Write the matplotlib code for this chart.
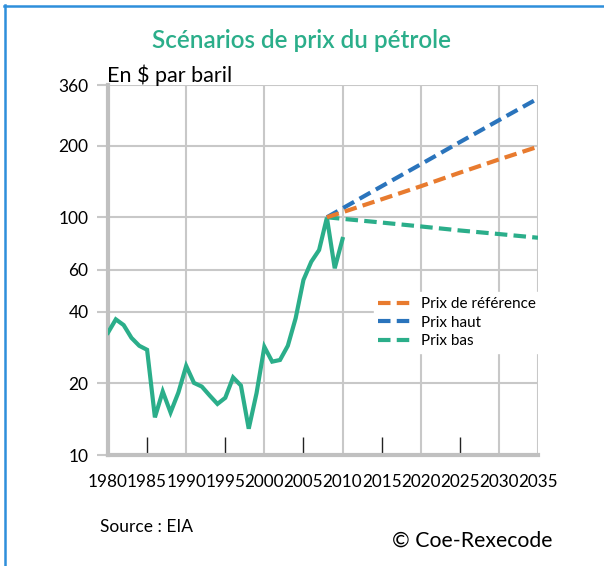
import numpy as np
import matplotlib.pyplot as plt
from matplotlib.lines import Line2D
from matplotlib.ticker import FixedLocator, FixedFormatter, NullFormatter

plt.rcParams['font.family'] = ['Lato', 'DejaVu Sans']

# historical price (green solid)
years_hist = list(range(1980, 2011))
price_hist = [32.7, 37.2, 35.2, 31.1, 28.8, 27.7, 14.4, 18.5, 15.1, 18.3,
              23.7, 20.1, 19.4, 17.8, 16.4, 17.4, 21.2, 19.6, 12.9, 18.2,
              28.5, 24.7, 25.1, 28.8, 37.6, 54.5, 65.0, 72.8, 99.6, 61.0, 81.0]

# scenarios
years_scen = [2008, 2010, 2015, 2020, 2025, 2030, 2035]
prix_ref = [100, 105, 119, 135, 154, 175, 198]
prix_haut = [100, 109, 135, 167, 207, 256, 316]
prix_bas = [100, 98.5, 95, 91.5, 88, 85, 82]

y_ticks = [10, 20, 40, 60, 100, 200, 360]
x_major = [1980, 1990, 2000, 2010, 2020, 2030, 2035]
x_minor = [1985, 1995, 2005, 2015, 2025]

green = '#2BAE8A'
orange = '#E87B2F'
blue = '#2A74BC'
grid_c = '#C8C8C8'
dash = (0, (3, 1.5))

fig = plt.figure(figsize=(6.04, 5.66), dpi=100)
ax = fig.add_axes([108 / 604, 1 - 455 / 566, 430 / 604, 370 / 566])

ax.plot(years_hist, price_hist, color=green, lw=3, solid_joinstyle='miter', zorder=3)
ax.plot(years_scen, prix_bas, color=green, lw=3, ls=dash, zorder=3)
ax.plot(years_scen, prix_haut, color=blue, lw=3, ls=dash, zorder=3)
ax.plot(years_scen, prix_ref, color=orange, lw=3, ls=dash, zorder=3)

ax.set_yscale('log')
ax.set_ylim(10, 360)
ax.set_xlim(1980, 2035)
ax.yaxis.set_major_locator(FixedLocator(y_ticks))
ax.yaxis.set_major_formatter(FixedFormatter([str(v) for v in y_ticks]))
ax.yaxis.set_minor_formatter(NullFormatter())
ax.tick_params(axis='y', which='minor', length=0)
ax.tick_params(axis='y', which='major', length=8, width=1.5, color=grid_c,
               labelsize=12.5, pad=6)

ax.xaxis.set_major_locator(FixedLocator(x_major))
ax.xaxis.set_major_formatter(FixedFormatter([str(v) for v in x_major]))
ax.xaxis.set_minor_locator(FixedLocator(x_minor))
ax.xaxis.set_minor_formatter(FixedFormatter([str(v) for v in x_minor]))
ax.tick_params(axis='x', which='major', length=0, labelsize=12.3, pad=14)
ax.tick_params(axis='x', which='minor', direction='in', length=13, width=1,
               color='#222222', labelsize=12.3, pad=14)

ax.grid(True, which='major', color=grid_c, lw=1.5, zorder=0)
ax.set_axisbelow(True)
for s in ['top', 'right']:
    ax.spines[s].set_visible(False)
for s in ['left', 'bottom']:
    ax.spines[s].set_color('#C0C0C0')
    ax.spines[s].set_linewidth(3)

handles = [Line2D([], [], color=orange, lw=3, ls=dash),
           Line2D([], [], color=blue, lw=3, ls=dash),
           Line2D([], [], color=green, lw=3, ls=dash)]
leg = ax.legend(handles, ['Prix de référence', 'Prix haut', 'Prix bas'],
                loc='upper left', bbox_to_anchor=(0.6, 0.46), frameon=True,
                fancybox=False, edgecolor='white', framealpha=1, fontsize=11,
                handlelength=2.3, handletextpad=0.5, labelspacing=0.3,
                borderpad=0.3)

fig.text(0.5, 1 - 40 / 566, 'Scénarios de prix du pétrole', color=green,
         fontsize=17.5, fontweight='semibold', ha='center', va='center')
fig.text(107 / 604, 1 - 75 / 566, 'En $ par baril', fontsize=15.5,
         ha='left', va='center')
fig.text(100 / 604, 1 - 527 / 566, 'Source : EIA', fontsize=12.5,
         ha='left', va='center')
fig.text(552 / 604, 1 - 541 / 566, '© Coe-Rexecode', fontsize=15.3,
         ha='right', va='center')

# frame border (left and top)
fig.add_artist(Line2D([4.5 / 604, 4.5 / 604], [0, 1 - 5 / 566], color='#2E8FDB',
                      lw=1.8, transform=fig.transFigure))
fig.add_artist(Line2D([4 / 604, 1], [1 - 5.5 / 566, 1 - 5.5 / 566], color='#2E8FDB',
                      lw=1.8, transform=fig.transFigure))

fig.savefig('out.png', dpi=100)
